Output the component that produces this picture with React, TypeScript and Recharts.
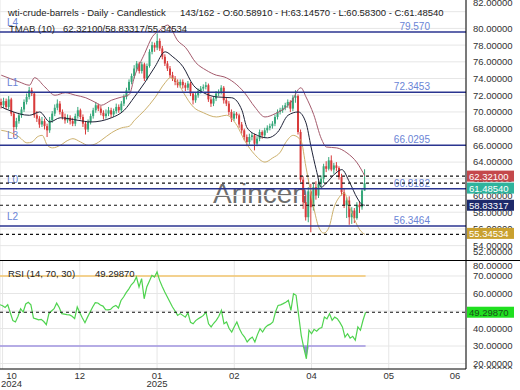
import React from "react";
import {
  Area,
  Bar,
  CartesianGrid,
  ComposedChart,
  Line,
  ReferenceLine,
  XAxis,
  YAxis,
} from "recharts";

const FONT = "'Liberation Sans', Arial, sans-serif";
const UP = "#35a779";
const DOWN = "#d83b3b";
const LEVEL = "#2b3590";
const LEVEL_TEXT = "#6a84d6";
const GRID = "#e6e6e6";
const TXT = "#333";

// 143 daily candles, room for 182 slots on the axis
const SLOTS = 182;

const opens = [
  71.2, 70.8, 71.3, 70.6, 71.5, 69.8, 68.2, 68.9, 69.6, 70.3,
  71.2, 71.8, 72.6, 72.2, 69.6, 69.2, 68.5, 68.9, 68.3, 67.8,
  69.0, 69.8, 70.5, 71.0, 70.0, 69.4, 69.0, 69.3, 68.9, 68.6,
  69.5, 70.2, 69.4, 68.6, 67.9, 68.8, 69.5, 70.2, 70.8, 70.4,
  69.9, 69.5, 69.8, 70.2, 69.7, 70.1, 70.6, 70.2, 71.0, 71.8,
  72.6, 73.6, 74.3, 75.2, 75.8, 74.9, 75.7, 74.0, 75.5, 77.2,
  78.0, 77.7, 78.5, 77.6, 76.6, 75.8, 75.2, 74.4, 74.0, 73.6,
  73.2, 73.6, 73.2, 72.9, 73.4, 72.2, 71.4, 72.0, 72.5, 72.8,
  73.0, 73.2, 71.5, 71.0, 71.6, 72.2, 72.4, 72.9, 71.4, 71.0,
  70.0, 69.2, 69.8, 69.6, 68.5, 67.8, 67.0, 66.4, 67.0, 67.2,
  66.2, 66.8, 67.6, 67.2, 67.8, 68.1, 68.3, 68.6, 69.4, 70.0,
  70.2, 70.5, 70.8, 71.2, 70.4, 71.7, 71.9, 67.6, 61.9, 59.2,
  57.4, 60.5, 58.6, 61.0, 60.0, 61.4, 62.0, 63.5, 63.2, 64.2,
  63.1, 63.6, 63.3, 62.2, 60.4, 58.8, 59.4, 57.4, 58.2, 57.3,
  58.9, 58.6, 60.589,
];

const highs = [
  71.6, 71.7, 71.6, 71.9, 71.7, 70.0, 69.3, 69.9, 70.6, 71.5,
  72.2, 73.0, 72.9, 72.4, 70.1, 69.5, 69.4, 69.2, 68.6, 69.4,
  70.1, 70.9, 71.5, 71.3, 70.3, 69.8, 69.7, 69.6, 69.3, 69.8,
  70.6, 70.4, 69.7, 68.9, 69.1, 69.8, 70.5, 71.2, 71.0, 70.7,
  70.2, 70.3, 70.6, 70.5, 70.4, 71.0, 70.9, 71.3, 72.1, 72.9,
  73.9, 74.6, 75.6, 76.1, 76.0, 76.0, 75.9, 75.8, 77.5, 78.4,
  78.3, 79.4, 78.8, 77.9, 76.9, 76.1, 75.5, 74.8, 74.3, 73.9,
  73.9, 73.9, 73.5, 73.7, 73.6, 72.4, 72.3, 72.8, 73.1, 73.3,
  73.6, 73.4, 71.8, 71.9, 72.5, 72.7, 73.2, 73.1, 71.7, 71.3,
  70.3, 70.1, 70.0, 69.8, 68.8, 68.0, 67.3, 67.4, 67.5, 67.4,
  67.1, 67.9, 67.8, 68.1, 68.4, 68.6, 68.9, 69.7, 70.3, 70.5,
  70.8, 71.1, 71.5, 71.4, 72.0, 72.6, 72.1, 67.9, 62.3, 60.1,
  61.0, 61.4, 61.4, 61.7, 61.8, 62.4, 63.8, 64.1, 64.6, 64.8,
  63.9, 64.0, 63.5, 62.6, 60.9, 59.8, 59.9, 58.6, 58.5, 59.2,
  59.3, 60.8, 63.1457,
];

const lows = [
  70.4, 70.5, 70.3, 70.3, 69.5, 67.0, 67.9, 68.6, 69.3, 70.0,
  70.9, 71.5, 71.9, 69.3, 68.8, 68.1, 68.2, 67.9, 67.0, 67.5,
  68.7, 69.5, 70.2, 69.7, 69.1, 68.6, 68.7, 68.5, 68.3, 68.3,
  69.2, 69.1, 68.2, 67.3, 67.6, 68.5, 69.2, 69.9, 70.1, 69.6,
  69.1, 69.2, 69.5, 69.3, 69.4, 69.8, 69.9, 69.9, 70.7, 71.5,
  72.3, 73.3, 74.0, 74.9, 74.6, 74.6, 73.7, 73.8, 75.3, 76.9,
  77.2, 77.4, 77.3, 76.3, 75.5, 74.9, 74.1, 73.7, 73.2, 72.9,
  72.9, 72.8, 72.5, 72.6, 71.9, 70.9, 71.1, 71.7, 72.2, 72.5,
  72.7, 71.2, 70.6, 70.7, 71.3, 71.9, 72.1, 71.0, 70.7, 69.6,
  68.8, 68.9, 69.2, 68.1, 67.4, 66.6, 65.9, 66.1, 66.6, 65.4,
  65.9, 66.5, 66.8, 66.9, 67.5, 67.8, 68.0, 68.3, 69.1, 69.7,
  69.9, 70.2, 70.5, 70.0, 70.1, 71.1, 67.3, 61.6, 58.4, 57.0,
  56.8, 55.6, 58.2, 59.5, 59.7, 60.9, 61.5, 62.8, 63.0, 62.9,
  62.6, 62.9, 61.9, 60.0, 58.5, 57.3, 56.5, 56.6, 56.7, 57.1,
  57.9, 58.3, 60.583,
];

const closes = [
  70.8, 71.3, 70.6, 71.5, 69.8, 68.2, 68.9, 69.6, 70.3, 71.2,
  71.8, 72.6, 72.2, 69.6, 69.2, 68.5, 68.9, 68.3, 67.8, 69.0,
  69.8, 70.5, 71.0, 70.0, 69.4, 69.0, 69.3, 68.9, 68.6, 69.5,
  70.2, 69.4, 68.6, 67.9, 68.8, 69.5, 70.2, 70.8, 70.4, 69.9,
  69.5, 69.8, 70.2, 69.7, 70.1, 70.6, 70.2, 71.0, 71.8, 72.6,
  73.6, 74.3, 75.2, 75.8, 74.9, 75.7, 74.0, 75.5, 77.2, 78.0,
  77.7, 78.5, 77.6, 76.6, 75.8, 75.2, 74.4, 74.0, 73.6, 73.2,
  73.6, 73.2, 72.9, 73.4, 72.2, 71.4, 72.0, 72.5, 72.8, 73.0,
  73.2, 71.5, 71.0, 71.6, 72.2, 72.4, 72.9, 71.4, 71.0, 70.0,
  69.2, 69.8, 69.6, 68.5, 67.8, 67.0, 66.4, 67.0, 67.2, 66.2,
  66.8, 67.6, 67.2, 67.8, 68.1, 68.3, 68.6, 69.4, 70.0, 70.2,
  70.5, 70.8, 71.2, 70.4, 71.7, 71.9, 67.6, 61.9, 59.2, 57.4,
  60.5, 58.6, 61.0, 60.0, 61.4, 62.0, 63.5, 63.2, 64.2, 63.1,
  63.6, 63.3, 62.2, 60.4, 58.8, 59.4, 57.4, 58.2, 57.3, 58.9,
  58.6, 60.6, 61.4854,
];

const rsiValues = [
  53.6, 53.0, 52.0, 53.6, 49.0, 44.5, 43.7, 47.0, 51.3, 49.4,
  54.0, 55.0, 53.5, 46.0, 45.5, 44.9, 45.2, 44.0, 42.2, 48.5,
  50.0, 51.3, 54.5, 52.0, 48.5, 48.2, 47.9, 47.8, 47.0, 45.6,
  52.3, 49.0, 46.0, 43.3, 46.5, 49.4, 52.3, 54.8, 54.6, 53.4,
  52.8, 50.8, 50.6, 51.0, 52.5, 53.2, 51.7, 56.0, 58.0, 60.5,
  62.5, 65.0, 66.5, 69.4, 63.7, 68.5, 57.0, 63.7, 67.0, 70.4,
  69.4, 72.3, 67.5, 64.0, 60.9, 58.0, 55.1, 52.3, 50.0, 47.5,
  48.5, 47.5, 46.5, 49.0, 43.5, 42.7, 44.5, 45.6, 46.5, 47.5,
  49.4, 42.7, 40.9, 43.0, 44.7, 47.0, 50.4, 42.7, 43.7, 40.0,
  38.0, 41.0, 43.7, 39.9, 37.0, 35.1, 32.3, 34.0, 35.1, 32.3,
  36.5, 39.9, 38.0, 40.5, 41.8, 42.5, 43.7, 49.4, 53.2, 53.5,
  54.2, 55.0, 56.1, 50.4, 59.9, 59.0, 47.5, 36.1, 29.0, 22.7,
  39.0, 37.0, 39.5, 38.5, 40.0, 40.5, 46.6, 45.5, 48.5, 44.7,
  46.5, 45.6, 43.5, 40.9, 35.1, 37.0, 34.5, 35.5, 33.3, 40.9,
  39.0, 44.7, 49.2987,
];

// TMA bands: [candle index, value]
const upperBand: [number, number][] = [
  [0, 74.4], [7, 73.6], [11, 73.2], [13, 74.1], [17, 73.0], [21, 72.0], [25, 72.3],
  [29, 72.0], [33, 71.7], [37, 71.1], [39, 70.8], [43, 71.4], [46, 71.7], [50, 72.1],
  [52, 74.2], [56, 77.0], [59, 79.0], [62, 79.8], [65, 80.4], [69, 78.5], [72, 77.7],
  [76, 75.9], [80, 75.0], [84, 74.4], [87, 74.2], [91, 73.5], [95, 72.3], [99, 70.6],
  [103, 69.4], [107, 69.8], [113, 71.1], [117, 72.9], [119, 71.8], [122, 69.7],
  [125, 66.8], [127, 65.8], [131, 65.7], [135, 65.1], [139, 63.9], [142, 62.321],
];

const middleBand: [number, number][] = [
  [0, 70.6], [3, 70.2], [11, 69.6], [15, 70.0], [19, 68.8], [23, 69.3], [30, 69.0],
  [35, 68.8], [43, 69.3], [48, 70.2], [52, 71.8], [56, 73.5], [60, 75.4], [64, 77.2],
  [67, 76.6], [71, 75.4], [75, 73.2], [79, 72.3], [84, 71.8], [90, 71.7], [94, 70.2],
  [96, 68.1], [100, 67.2], [104, 66.9], [108, 67.6], [112, 69.6], [116, 70.0],
  [119, 68.7], [121, 65.8], [123, 63.1], [125, 61.0], [127, 61.5], [130, 62.5],
  [133, 63.1], [136, 61.6], [139, 59.7], [141, 58.9], [142, 58.83317],
];

const lowerBand: [number, number][] = [
  [0, 67.8], [3, 67.6], [7, 67.0], [10, 66.3], [12, 66.4], [14, 67.0], [16, 67.2],
  [18, 66.0], [20, 65.7], [23, 66.0], [26, 66.6], [28, 66.8], [31, 66.4], [34, 66.0],
  [37, 66.2], [39, 66.6], [43, 67.5], [47, 68.1], [50, 68.3], [52, 69.0], [56, 70.2],
  [60, 71.7], [64, 73.5], [66, 74.1], [69, 73.5], [71, 72.4], [75, 70.6], [79, 69.9],
  [84, 69.4], [88, 69.6], [92, 68.4], [95, 66.6], [99, 64.9], [103, 64.0], [106, 64.5],
  [109, 65.2], [111, 66.3], [114, 67.2], [117, 66.6], [119, 63.4], [122, 58.6],
  [124, 56.2], [126, 55.5], [128, 56.2], [130, 58.6], [132, 59.8], [134, 60.3],
  [136, 58.6], [138, 57.1], [140, 55.9], [142, 55.34534],
];

const PRICE_DOMAIN = [52.28, 83.4];
const RSI_DOMAIN = [16.86, 78.57];
const priceTicks = [52, 54, 56, 58, 60, 62, 64, 66, 68, 70, 72, 74, 76, 78, 80, 82];
const rsiTicks = [10, 20, 30, 40, 50, 60, 70, 80];
const rsiGrid = [20, 30, 40, 50, 60, 70];
const monthTicks = [1, 31, 61, 91, 121, 151, 181];
const monthLabels = [["10", "2024"], ["12"], ["01", "2025"], ["02"], ["04"], ["05"], ["06"]];

const levelNames = ["L4", "L1", "L3", "L0", "L2"];
const levelValues = [79.57, 72.3453, 66.0295, 60.8182, 56.3464];
const levelTexts = ["79.570", "72.3453", "66.0295", "60.8182", "56.3464"];

const markerValues = [62.321, 61.4854, 58.83317, 55.34534];
const markerTexts = ["62.32100", "61.48540", "58.83317", "55.34534"];
const markerColors = ["#c4484b", "#2fb39c", "#1d2a6b", "#c9a02e"];
const markerShift = [0, 5, 0, -1];

const RSI_LAST = 49.2987;
const RSI_OVERBOUGHT = 70;
const RSI_OVERSOLD = 30;

const rows: any[] = Array.from({ length: SLOTS }, (_, i) => {
  const has = i < closes.length;
  return {
    i,
    o: has ? opens[i] : null,
    h: has ? highs[i] : null,
    l: has ? lows[i] : null,
    c: has ? closes[i] : null,
    hl: has ? [lows[i], highs[i]] : null,
    rsi: has ? rsiValues[i] : null,
    upper: null,
    middle: null,
    lower: null,
    dip: null,
  };
});
upperBand.forEach(([i, v]) => (rows[i].upper = v));
middleBand.forEach(([i, v]) => (rows[i].middle = v));
lowerBand.forEach(([i, v]) => (rows[i].lower = v));
// shaded part where RSI falls under the oversold line
rows.forEach((row, i) => {
  const r = row.rsi;
  if (r == null) return;
  const prev = rows[i - 1]?.rsi;
  const next = rows[i + 1]?.rsi;
  if (r < RSI_OVERSOLD) row.dip = [r, RSI_OVERSOLD];
  else if ((prev != null && prev < RSI_OVERSOLD) || (next != null && next < RSI_OVERSOLD))
    row.dip = [RSI_OVERSOLD, RSI_OVERSOLD];
});

function Candle(props: any) {
  const { x, y, width, height, payload } = props;
  if (!payload || payload.hl == null) return null;
  const { o, h, l, c } = payload;
  const top = Math.min(y, y + height);
  const hh = Math.abs(height);
  const py = (v: number) => (h === l ? top : top + ((h - v) / (h - l)) * hh);
  const cx = x + width / 2;
  const color = c >= o ? UP : DOWN;
  const y1 = py(Math.max(o, c));
  const y2 = py(Math.min(o, c));
  return (
    <g>
      <line x1={cx} x2={cx} y1={top} y2={top + hh} stroke={color} strokeWidth={1} />
      <rect x={cx - 1} y={y1} width={2} height={Math.max(1, y2 - y1)} fill={color} />
    </g>
  );
}

function PriceTick(props: any) {
  const { x, y, payload } = props;
  // top label sits pushed up against the frame, bottom one squeezed above the edge
  const ty = y < 15 ? y - 9 : Math.min(y, 252);
  return (
    <text x={x - 1} y={ty + 3.4} fontSize={9.5} fill={TXT} fontFamily={FONT}>
      {Number(payload.value).toFixed(5)}
    </text>
  );
}

function RsiTick(props: any) {
  const { x, y, payload } = props;
  const ty = Math.min(Math.max(y, 5), 109);
  return (
    <g>
      <defs>
        <clipPath id={`rsi-clip-${payload.value}`}>
          <rect x={0} y={0} width={520} height={108} />
        </clipPath>
      </defs>
      <text
        x={x - 1}
        y={ty + 3.4}
        fontSize={9.5}
        fill={TXT}
        fontFamily={FONT}
        clipPath={`url(#rsi-clip-${payload.value})`}
      >
        {Number(payload.value).toFixed(5)}
      </text>
    </g>
  );
}

function MonthTick(props: any) {
  const { x, y, payload } = props;
  const k = monthTicks.indexOf(payload.value);
  const lines = monthLabels[k] ?? [];
  const dx = k === 0 ? 9 : k === monthTicks.length - 1 ? -11 : 0;
  return (
    <g>
      {lines.map((t, j) => (
        <text key={j} x={x + dx} y={y + 1.5 + j * 8.5} textAnchor="middle" fontSize={9.5} fill={TXT} fontFamily={FONT}>
          {t}
        </text>
      ))}
    </g>
  );
}

function LevelLabel(props: any) {
  const { viewBox, name, text } = props;
  if (!viewBox) return null;
  const { x, y, width } = viewBox;
  return (
    <g fontFamily={FONT} fontSize={10} fill={LEVEL_TEXT}>
      <text x={x + 7} y={y - 6}>{name}</text>
      <text x={x + width - 36} y={y - 2} textAnchor="end">{text}</text>
    </g>
  );
}

function Tag(props: any) {
  const { viewBox, text, color, textColor, shift } = props;
  if (!viewBox) return null;
  const { x, y, width } = viewBox;
  const cy = y + (shift || 0);
  return (
    <g>
      <rect x={x + width + 1} y={cy - 5.5} width={47} height={11} fill={color} />
      <text x={x + width + 3} y={cy + 3.5} fontSize={9.5} fill={textColor || "#fff"} fontFamily={FONT}>
        {text}
      </text>
    </g>
  );
}

// transparent chart laid on top so the last-value tags cover the axis labels
function TagLayer({ height, bottom, domain, values, texts, colors, shifts, textColor }: any) {
  return (
    <ComposedChart width={520} height={height} data={rows} margin={{ top: 0, right: 54, bottom, left: 0 }}>
      <XAxis dataKey="i" hide />
      <YAxis type="number" hide domain={domain} allowDataOverflow />
      {values.map((v: number, k: number) => (
        <ReferenceLine
          key={`tg${k}`}
          y={v}
          stroke="#111"
          strokeDasharray="3 3"
          strokeWidth={1.2}
          label={<Tag text={texts[k]} color={colors[k]} shift={shifts ? shifts[k] : 0} textColor={textColor} />}
        />
      ))}
    </ComposedChart>
  );
}

export default function App() {
  return (
    <div style={{ position: "fixed", left: 0, top: 0, width: 520, height: 390, background: "#fff", fontFamily: FONT }}>
      <svg style={{ position: "absolute", left: 0, top: 0 }} width={520} height={260}>
        <text x={213} y={203} fontSize={28} fill="#6e6e6e" fontFamily={FONT}>Arincen</text>
      </svg>

      <div style={{ position: "absolute", left: 0, top: 0 }}>
        <ComposedChart width={520} height={260} data={rows} margin={{ top: 0, right: 0, bottom: 0, left: 0 }}>
          <CartesianGrid stroke={GRID} horizontalValues={priceTicks} />
          <XAxis dataKey="i" ticks={monthTicks} interval={0} height={0} tick={false} axisLine={false} tickLine={false} />
          <YAxis
            orientation="right"
            type="number"
            width={54}
            domain={PRICE_DOMAIN}
            ticks={priceTicks}
            interval={0}
            allowDataOverflow
            tickLine={false}
            axisLine={{ stroke: "#000" }}
            tick={<PriceTick />}
          />
          <Bar dataKey="hl" barSize={2} shape={<Candle />} isAnimationActive={false} />
          <Line dataKey="upper" stroke="#a45a6c" strokeWidth={1} dot={false} connectNulls type="monotone" isAnimationActive={false} />
          <Line dataKey="middle" stroke="#1f2338" strokeWidth={1} dot={false} connectNulls type="monotone" isAnimationActive={false} />
          <Line dataKey="lower" stroke="#ccb06c" strokeWidth={1} dot={false} connectNulls type="monotone" isAnimationActive={false} />
          {levelValues.map((v, k) => (
            <ReferenceLine
              key={`lv${k}`}
              y={v}
              stroke={LEVEL}
              strokeWidth={1.5}
              label={<LevelLabel name={levelNames[k]} text={levelTexts[k]} />}
            />
          ))}
        </ComposedChart>
      </div>

      <div style={{ position: "absolute", left: 0, top: 0 }}>
        <TagLayer
          height={260}
          bottom={0}
          domain={PRICE_DOMAIN}
          values={markerValues}
          texts={markerTexts}
          colors={markerColors}
          shifts={markerShift}
        />
      </div>

      <div style={{ position: "absolute", left: 0, top: 260, width: 520, height: 1, background: "#000" }} />

      <div style={{ position: "absolute", left: 0, top: 261 }}>
        <ComposedChart width={520} height={129} data={rows} margin={{ top: 0, right: 0, bottom: 0, left: 0 }}>
          <CartesianGrid stroke={GRID} horizontalValues={rsiGrid} />
          <XAxis
            dataKey="i"
            ticks={monthTicks}
            interval={0}
            height={21}
            tickLine={false}
            axisLine={{ stroke: "#000" }}
            tick={<MonthTick />}
          />
          <YAxis
            orientation="right"
            type="number"
            width={54}
            domain={RSI_DOMAIN}
            ticks={rsiTicks}
            interval={0}
            allowDataOverflow
            tickLine={false}
            axisLine={{ stroke: "#000" }}
            tick={<RsiTick />}
          />
          <ReferenceLine
            segment={[{ x: 0, y: RSI_OVERBOUGHT }, { x: closes.length - 1, y: RSI_OVERBOUGHT }]}
            stroke="#f3c66e"
            strokeWidth={1.5}
          />
          <ReferenceLine
            segment={[{ x: 0, y: RSI_OVERSOLD }, { x: closes.length - 1, y: RSI_OVERSOLD }]}
            stroke="#a095e0"
            strokeWidth={1.5}
          />
          <Area dataKey="dip" stroke="none" fill="#8b7fd6" fillOpacity={0.9} isAnimationActive={false} />
          <Line dataKey="rsi" stroke="#4fd34f" strokeWidth={1.2} dot={false} isAnimationActive={false} />
        </ComposedChart>
      </div>

      <div style={{ position: "absolute", left: 0, top: 261 }}>
        <TagLayer
          height={129}
          bottom={21}
          domain={RSI_DOMAIN}
          values={[RSI_LAST]}
          texts={["49.29870"]}
          colors={["#1fe01f"]}
          textColor="#1a4d1a"
        />
      </div>

      <svg style={{ position: "absolute", left: 0, top: 0, pointerEvents: "none" }} width={520} height={390}>
        <g fontFamily={FONT} fontSize={9.5} fill="#222">
          <text x={8} y={16}>wti-crude-barrels - Daily - Candlestick</text>
          <text x={180} y={16}>143/162 - O:60.58910 - H:63.14570 - L:60.58300 - C:61.48540</text>
          <text x={9} y={32}>TMAB (10)</text>
          <text x={63} y={32}>62.32100/58.83317/55.34534</text>
          <text x={8} y={277}>RSI (14, 70, 30)</text>
          <text x={95} y={277}>49.29870</text>
        </g>
      </svg>
    </div>
  );
}
